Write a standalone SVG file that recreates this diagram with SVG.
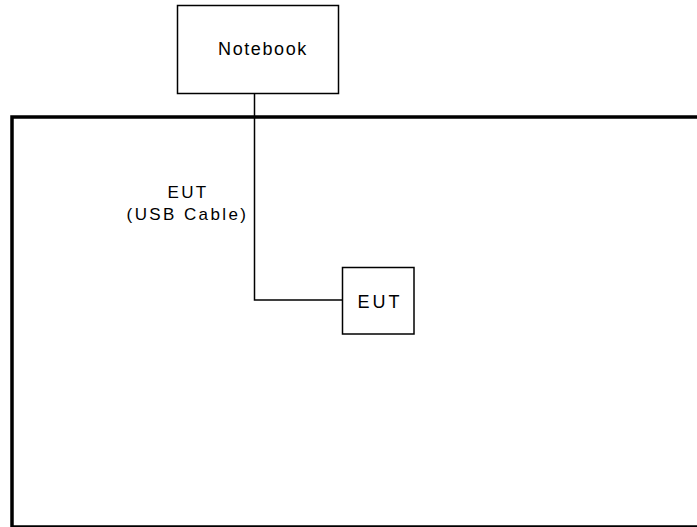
<svg xmlns="http://www.w3.org/2000/svg" width="697" height="527" viewBox="0 0 697 527">
<style>
.box{fill:#fff;stroke:#000;stroke-width:1.5}
.frame{fill:none;stroke:#000;stroke-width:3.5}
.wire{fill:none;stroke:#000;stroke-width:1.5}
text{font-family:"Liberation Sans",Arial,sans-serif;fill:#000;text-anchor:middle}
</style>
<rect width="697" height="527" fill="#fff"/>
<g id="chamber"><rect class="frame" x="12" y="117" width="700" height="410"/></g>
<g id="connectors"><path class="wire" d="M254.5 93 V300 H342.5"/></g>
<g id="notebook"><rect class="box" x="177.5" y="5.5" width="161" height="88"/><text x="263" y="55" font-size="18" letter-spacing="1.6">Notebook</text></g>
<g id="cable-label"><text x="188" y="198" font-size="17" letter-spacing="2.3">EUT</text><text x="187.5" y="220" font-size="17" letter-spacing="2.4">(USB Cable)</text></g>
<g id="eut"><rect class="box" x="342.5" y="267.5" width="71.5" height="66.5"/><text x="380" y="308" font-size="18" letter-spacing="3">EUT</text></g>
</svg>
